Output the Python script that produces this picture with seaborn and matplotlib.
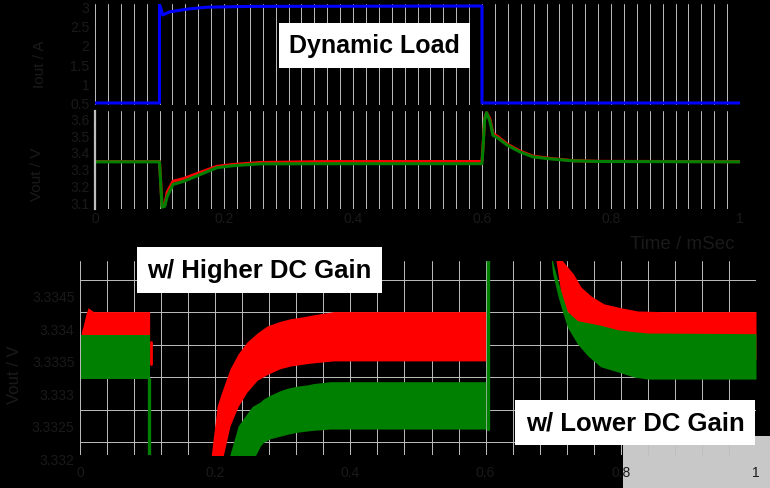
import matplotlib
matplotlib.use("Agg")
import matplotlib.pyplot as plt
import seaborn as sns
from matplotlib.patches import Rectangle
from matplotlib.transforms import ScaledTranslation

# ---- top: load current step (A) ----
load_t = [0, 0.1, 0.1, 0.101, 0.105, 0.112, 0.116, 0.143, 0.174, 0.24, 0.6, 0.6, 1.0]
load_i = [0.5, 0.5, 3.03, 3.0, 2.77, 2.82, 2.85, 2.92, 2.97, 2.99, 3.0, 0.5, 0.5]

# ---- top: output voltage (V), both compensators ----
vout_t = [0, 0.1, 0.102, 0.104, 0.108, 0.112, 0.121, 0.137, 0.163, 0.189, 0.214, 0.256,
          0.35, 0.6, 0.602, 0.604, 0.607, 0.612, 0.617, 0.625, 0.639, 0.659, 0.679,
          0.705, 0.741, 0.783, 1.0]
vout_high = [3.343, 3.343, 3.21, 3.075, 3.08, 3.16, 3.225, 3.24, 3.278, 3.314, 3.325, 3.337,
             3.342, 3.343, 3.46, 3.6, 3.635, 3.6, 3.51, 3.49, 3.447, 3.405, 3.375,
             3.362, 3.348, 3.344, 3.342]
vout_low = [3.341, 3.341, 3.2, 3.07, 3.075, 3.135, 3.206, 3.224, 3.265, 3.306, 3.318, 3.329,
            3.33, 3.33, 3.45, 3.59, 3.635, 3.588, 3.5, 3.482, 3.441, 3.40, 3.371,
            3.359, 3.347, 3.343, 3.341]

# ---- bottom: zoomed ripple envelopes (V) ----
# higher DC gain (red)
hi_pre_t = [0.002, 0.005, 0.009, 0.012, 0.02, 0.103]
hi_pre_top = [3.33370, 3.33380, 3.33398, 3.33407, 3.33401, 3.33401]
hi_pre_bot = [3.3333, 3.3333, 3.3333, 3.3333, 3.3333, 3.3333]
hi_rec_t = [0.193, 0.203, 0.21, 0.222, 0.234, 0.247, 0.262, 0.277, 0.296, 0.311, 0.33, 0.345, 0.375, 0.45, 0.6]
hi_rec_top = [3.3317, 3.33256, 3.33278, 3.33313, 3.33336, 3.33354, 3.33368, 3.33379, 3.33386,
              3.33390, 3.33393, 3.33396, 3.33401, 3.33401, 3.33401]
hi_rec_bot = [3.3317, 3.3317, 3.3317, 3.33225, 3.33255, 3.33277, 3.33295, 3.33304, 3.33313,
              3.33317, 3.33320, 3.33322, 3.33325, 3.33325, 3.33325]
hi_rel_t = [0.69, 0.714, 0.73, 0.741, 0.756, 0.775, 0.8, 0.825, 0.86, 1.0]
hi_rel_top = [3.3365, 3.33479, 3.33459, 3.33439, 3.33425, 3.33413, 3.33407, 3.33402, 3.33401, 3.33401]
hi_rel_bot = [3.3358, 3.3341, 3.3339, 3.33375, 3.33355, 3.3334, 3.33333, 3.3333, 3.33327, 3.33327]
hi_edge_t = [0.1045, 0.1045]
hi_edge_v = [3.33354, 3.3332]

# lower DC gain (green)
lo_pre_t = [0.002, 0.103]
lo_pre_top = [3.33365, 3.33365]
lo_pre_bot = [3.33297, 3.33297]
lo_rec_t = [0.219, 0.234, 0.252, 0.255, 0.267, 0.271, 0.281, 0.296, 0.307, 0.321, 0.336, 0.345, 0.37, 0.45, 0.6]
lo_rec_top = [3.3317, 3.33225, 3.33251, 3.33255, 3.33262, 3.33266, 3.33272, 3.33279, 3.33283,
              3.33286, 3.33288, 3.33290, 3.33293, 3.33293, 3.33293]
lo_rec_bot = [3.3317, 3.3317, 3.3317, 3.3317, 3.33194, 3.33199, 3.33205, 3.33209, 3.33212,
              3.33215, 3.33217, 3.33218, 3.33220, 3.33220, 3.33220]
lo_rel_t = [0.69, 0.699, 0.707, 0.714, 0.721, 0.736, 0.751, 0.77, 0.796, 0.82, 0.84, 1.0]
lo_rel_top = [3.336, 3.33479, 3.33448, 3.33424, 3.33401, 3.33387, 3.33384, 3.33380, 3.33373, 3.33370, 3.33368, 3.33367]
lo_rel_bot = [3.3356, 3.3346, 3.33425, 3.33400, 3.33377, 3.33351, 3.33333, 3.33316, 3.33308, 3.33300, 3.33297, 3.33297]
lo_edge_t = [0.1025, 0.1025, float("nan"), 0.603, 0.603]
lo_edge_v = [3.33297, 3.3316, float("nan"), 3.3322, 3.3350]

x_ticks = [0, 0.2, 0.4, 0.6, 0.8, 1.0]
x_labels = ["0", "0.2", "0.4", "0.6", "0.8", "1"]
i_ticks = [0.5, 1, 1.5, 2, 2.5, 3]
v_ticks = [3.1, 3.2, 3.3, 3.4, 3.5, 3.6]
z_ticks = [3.332, 3.3325, 3.333, 3.3335, 3.334, 3.3345]

RED, GREEN, BLUE = "#ff0000", "#008000", "#0000ff"
DARK = "#1a1a1a"
GRID = "#bebebe"

sns.set_theme(style="dark", rc={
    "figure.facecolor": "black", "axes.facecolor": "none",
    "grid.color": GRID, "grid.linewidth": 0.7, "grid.linestyle": "-",
    "xtick.color": DARK, "ytick.color": DARK, "axes.labelcolor": DARK,
    "xtick.major.size": 0, "ytick.major.size": 0,
    "xtick.minor.size": 0, "ytick.minor.size": 0,
})
plt.rcParams["font.family"] = ["Liberation Sans", "DejaVu Sans"]

W, H = 770, 489
fig = plt.figure(figsize=(W / 100, H / 100), dpi=100)

# pasted grey patch in the bottom right corner
fig.add_artist(Rectangle((623 / W, 0), 147 / W, 52 / H, transform=fig.transFigure,
                         facecolor="#c8c8c8", edgecolor="none", zorder=-1))

ax_i = fig.add_axes([95 / W, 1 - 106 / H, 645 / W, 101 / H])
ax_v = fig.add_axes([95 / W, 1 - 210 / H, 645 / W, 98 / H])
ax_z = fig.add_axes([80 / W, 1 - 456 / H, 676 / W, 194 / H])

sns.lineplot(x=load_t, y=load_i, ax=ax_i, color=BLUE, lw=2.2, sort=False, estimator=None)
sns.lineplot(x=vout_t, y=vout_high, ax=ax_v, color=RED, lw=2.2, sort=False, estimator=None)
sns.lineplot(x=vout_t, y=vout_low, ax=ax_v, color=GREEN, lw=2.2, sort=False, estimator=None)

for t, top, bot in [(hi_pre_t, hi_pre_top, hi_pre_bot), (hi_rec_t, hi_rec_top, hi_rec_bot),
                    (hi_rel_t, hi_rel_top, hi_rel_bot)]:
    ax_z.fill_between(t, bot, top, color=RED, lw=0)
ax_z.plot(hi_edge_t, hi_edge_v, color=RED, lw=2)
for t, top, bot in [(lo_pre_t, lo_pre_top, lo_pre_bot), (lo_rec_t, lo_rec_top, lo_rec_bot),
                    (lo_rel_t, lo_rel_top, lo_rel_bot)]:
    ax_z.fill_between(t, bot, top, color=GREEN, lw=0)
ax_z.plot(lo_edge_t, lo_edge_v, color=GREEN, lw=2.4)

ax_i.set_ylim(0.448, 3.052)
ax_v.set_ylim(3.059, 3.645)
ax_z.set_ylim(3.3318, 3.33479)

for ax in (ax_i, ax_v, ax_z):
    ax.set_xlim(0, 1)
    for s in ax.spines.values():
        s.set_visible(False)
    ax.set_axisbelow(True)

for ax in (ax_i, ax_v):
    ax.set_xticks([k / 50 for k in range(51)], minor=True)
    ax.set_xticks(x_ticks)
    ax.grid(True, axis="x", which="both")
    ax.grid(False, axis="y")
ax_i.set_xticklabels([])
ax_v.set_xticklabels(x_labels)
ax_i.set_yticks(i_ticks)
ax_i.set_yticklabels(["0.5", "1", "1.5", "2", "2.5", "3"])
ax_v.set_yticks(v_ticks)
ax_v.set_yticklabels(["3.1", "3.2", "3.3", "3.4", "3.5", "3.6"])
ax_v.spines["left"].set_visible(True)
ax_v.spines["left"].set_color(GRID)
ax_v.spines["left"].set_linewidth(1.6)

ax_z.set_xticks([k / 25 for k in range(26)], minor=True)
ax_z.set_xticks(x_ticks)
ax_z.set_xticklabels(x_labels)
ax_z.set_yticks(z_ticks)
ax_z.set_yticklabels(["3.332", "3.3325", "3.333", "3.3335", "3.334", "3.3345"])
ax_z.grid(True, axis="x", which="both")
ax_z.grid(True, axis="y", which="major")

for ax in (ax_i, ax_v, ax_z):
    ax.tick_params(labelsize=10, pad=4)
ax_v.tick_params(axis="x", pad=1.5)
ax_z.tick_params(axis="x", pad=7)

# y labels sit about half a division below their grid line in the original
for lbl in ax_z.get_yticklabels():
    lbl.set_transform(lbl.get_transform() + ScaledTranslation(0, -0.16, fig.dpi_scale_trans))

ax_i.set_ylabel("Iout / A", fontsize=11)
ax_i.yaxis.set_label_coords(-0.074, 0.41)
ax_v.set_ylabel("Vout / V", fontsize=11)
ax_v.yaxis.set_label_coords(-0.079, 0.36)
ax_z.set_ylabel("Vout / V", fontsize=12)
ax_z.yaxis.set_label_coords(-0.086, 0.42)
ax_v.set_xlabel("Time / mSec", fontsize=13.5, loc="right")
ax_v.xaxis.set_label_coords(0.992, -0.27)

box = dict(boxstyle="square,pad=0.42", facecolor="white", edgecolor="none")
fig.text(374.5 / W, 1 - 46.5 / H, "Dynamic Load", ha="center", va="center",
         fontsize=18, fontweight="bold", color="black", bbox=box)
fig.text(259.5 / W, 1 - 271 / H, "w/ Higher DC Gain", ha="center", va="center",
         fontsize=18.5, fontweight="bold", color="black", bbox=box)
fig.text(635 / W, 1 - 423.5 / H, "w/ Lower DC Gain", ha="center", va="center",
         fontsize=18.5, fontweight="bold", color="black", bbox=box)

fig.savefig("out.png", dpi=100, facecolor="black")
